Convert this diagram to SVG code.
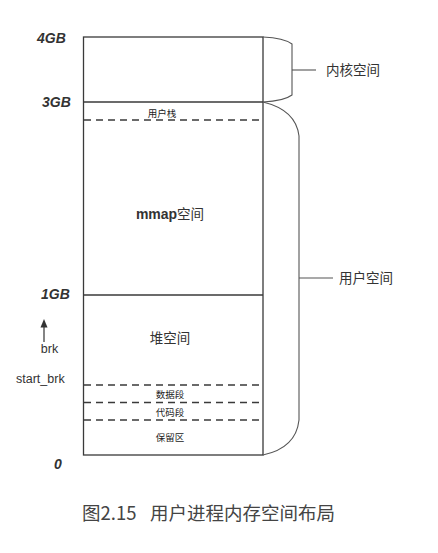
<svg xmlns="http://www.w3.org/2000/svg" width="438" height="553" viewBox="0 0 438 553">
  <style>
    .box { fill: none; stroke: #3a3a3a; stroke-width: 1.3; }
    .div { stroke: #3a3a3a; stroke-width: 1.3; }
    .dash { stroke: #3a3a3a; stroke-width: 1.6; stroke-dasharray: 7 5; }
    .brace { fill: none; stroke: #555; stroke-width: 1.1; }
    .addr { font-family: "Liberation Sans", Arial, sans-serif; font-weight: bold; font-style: italic; font-size: 14px; fill: #333; }
    .lbl { font-family: "Liberation Sans", "Noto Sans CJK SC", sans-serif; font-size: 12.5px; fill: #333; }
    .zh { font-family: "Noto Sans CJK SC", sans-serif; font-size: 13.5px; fill: #333; }
    .zs { font-family: "Noto Sans CJK SC", sans-serif; font-size: 9.5px; fill: #222; }
    .cap { font-family: "Noto Sans CJK SC", sans-serif; font-size: 18.5px; fill: #444; }
  </style>

  <!-- address scale -->
  <g id="addresses">
    <text class="addr" x="37" y="43">4GB</text>
    <text class="addr" x="42" y="107">3GB</text>
    <text class="addr" x="41" y="299">1GB</text>
    <text class="addr" x="54" y="469">0</text>
  </g>

  <!-- memory column -->
  <g id="memory">
    <rect class="box" x="83.5" y="37" width="179.5" height="418"/>
    <line class="div" x1="83.5" y1="102" x2="263" y2="102"/>
    <line class="div" x1="83.5" y1="295" x2="263" y2="295"/>
  </g>

  <g id="user-stack">
    <text class="zs" x="162" y="117" text-anchor="middle">用户栈</text>
    <line class="dash" x1="84" y1="120" x2="263" y2="120"/>
  </g>

  <g id="mmap">
    <text x="170" y="219" text-anchor="middle"><tspan font-family="Liberation Sans, Arial, sans-serif" font-weight="bold" font-size="14" fill="#333">mmap</tspan><tspan class="zh">空间</tspan></text>
  </g>

  <g id="heap">
    <text class="zh" x="170" y="343" text-anchor="middle">堆空间</text>
  </g>

  <g id="data-seg">
    <line class="dash" x1="84" y1="385" x2="263" y2="385"/>
    <text class="zs" x="170" y="398" text-anchor="middle">数据段</text>
  </g>

  <g id="code-seg">
    <line class="dash" x1="84" y1="402.5" x2="263" y2="402.5"/>
    <text class="zs" x="170" y="416" text-anchor="middle">代码段</text>
  </g>

  <g id="reserved">
    <line class="dash" x1="84" y1="420" x2="263" y2="420"/>
    <text class="zs" x="170" y="441" text-anchor="middle">保留区</text>
  </g>

  <!-- heap pointers -->
  <g id="brk">
    <text class="lbl" x="49.5" y="353" text-anchor="middle">brk</text>
    <text class="lbl" x="16" y="383">start_brk</text>
  </g>

  <g id="connectors">
    <line x1="44" y1="342" x2="44" y2="326" stroke="#333" stroke-width="1.2"/>
    <path d="M44,319 L40.5,327.5 L47.5,327.5 Z" fill="#333"/>
    <!-- kernel space brace -->
    <path class="brace" d="M263,37 Q284,38 292,44 L292,95 Q284,101 263,102"/>
    <line class="brace" x1="292" y1="70" x2="316" y2="70"/>
    <!-- user space brace -->
    <path class="brace" d="M263,102 Q296,110 299,136 L299,420 Q296,448 263,455"/>
    <line class="brace" x1="299" y1="278" x2="333" y2="278"/>
  </g>

  <g id="kernel-label">
    <text class="zh" x="326" y="75">内核空间</text>
  </g>
  <g id="user-label">
    <text class="zh" x="339" y="283">用户空间</text>
  </g>

  <g id="caption">
    <text class="cap" x="82" y="520">图2.15<tspan x="150">用户进程内存空间布局</tspan></text>
  </g>
</svg>
